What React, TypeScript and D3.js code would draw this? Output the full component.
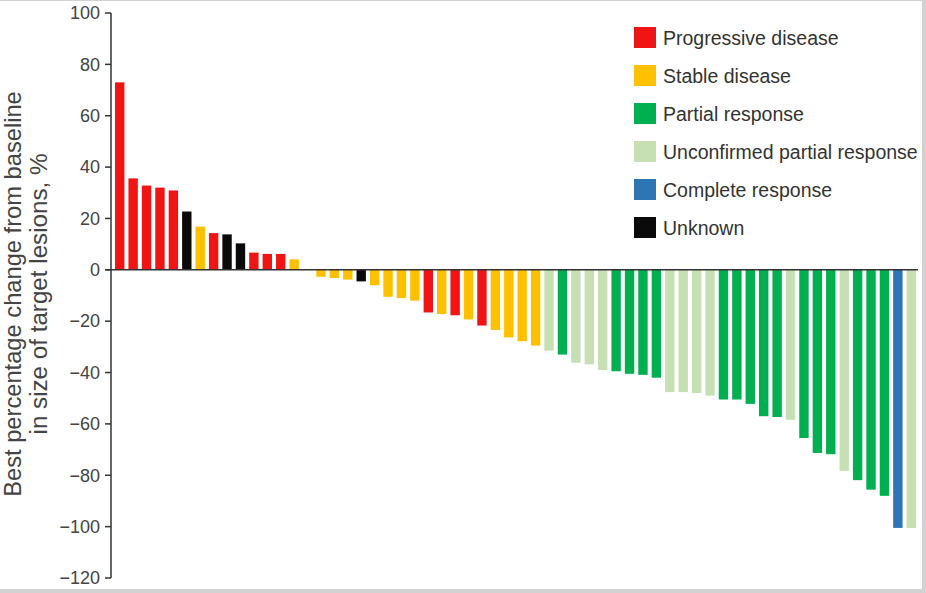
import React from "react";
import * as d3 from "d3";

const W = 926;
const H = 593;

const values: number[] = [
  73, 35.6, 32.8, 32, 30.9, 22.7, 16.8, 14.3, 13.8, 10.3, 6.7, 6.2, 6.2, 4.1, 0,
  -2.7, -3.2, -3.8, -4.5, -6, -10.5, -11, -12, -16.6, -17.2, -17.7, -19.3, -21.7,
  -23.4, -26.3, -27.8, -29.5, -31.5, -33, -36.2, -36.8, -39, -39.5, -40.5, -40.9,
  -42, -47.6, -47.6, -48, -49, -50.5, -50.5, -52.2, -57, -57.3, -58.4, -65.5,
  -71.3, -71.8, -78.3, -81.9, -85.6, -88, -100.5, -100.5,
];

// P = progressive, S = stable, R = partial, U = unconfirmed partial, C = complete, K = unknown
const responses: string[] = [
  "P", "P", "P", "P", "P", "K", "S", "P", "K", "K", "P", "P", "P", "S", "S",
  "S", "S", "S", "K", "S", "S", "S", "S", "P", "S", "P", "S", "P", "S", "S",
  "S", "S", "U", "R", "U", "U", "U", "R", "R", "R", "R", "U", "U", "U", "U",
  "R", "R", "R", "R", "R", "U", "R", "R", "R", "U", "R", "R", "R", "C", "U",
];

const legendKeys: string[] = ["P", "S", "R", "U", "C", "K"];
const legendLabels: string[] = [
  "Progressive disease",
  "Stable disease",
  "Partial response",
  "Unconfirmed partial response",
  "Complete response",
  "Unknown",
];
const legendColors: string[] = ["#f01414", "#ffc000", "#00b050", "#c6e0b4", "#2e75b6", "#0a0a0a"];

const yTicks: number[] = [100, 80, 60, 40, 20, 0, -20, -40, -60, -80, -100, -120];

const colorScale = d3.scaleOrdinal<string, string>().domain(legendKeys).range(legendColors);

const fontFamily = "'Liberation Sans', Arial, Helvetica, sans-serif";

export default function App() {
  const axisX = 111;
  const x = d3
    .scaleBand<number>()
    .domain(d3.range(values.length))
    .range([axisX, 920])
    .paddingInner(0.3)
    .paddingOuter(0.3);
  const y = d3.scaleLinear().domain([-120, 100]).range([578, 13]);

  const fmt = (v: number) => (v < 0 ? "\u2212" + Math.abs(v) : String(v));

  return (
    <div style={{ position: "absolute", left: 0, top: 0 }}>
      <svg width={W} height={H} style={{ display: "block", fontFamily }}>
        <rect x={0} y={0} width={W} height={H} fill="#d2d2d2" />
        <rect x={0} y={1} width={922} height={588} fill="#ffffff" />

        {/* bars */}
        {values.map((v, i) => (
          <rect
            key={i}
            x={x(i)!}
            width={x.bandwidth()}
            y={Math.min(y(v), y(0))}
            height={Math.abs(y(v) - y(0))}
            fill={colorScale(responses[i])}
          />
        ))}

        {/* zero line */}
        <line x1={axisX - 5} x2={918} y1={y(0)} y2={y(0)} stroke="#333" strokeWidth={1.5} />

        {/* y axis */}
        <line x1={axisX} x2={axisX} y1={y(100)} y2={y(-120)} stroke="#333" strokeWidth={1.5} />
        {yTicks.map((t) => (
          <g key={t}>
            <line x1={axisX - 6} x2={axisX} y1={y(t)} y2={y(t)} stroke="#333" strokeWidth={1.5} />
            <text
              x={axisX - 11}
              y={y(t)}
              dy="0.35em"
              textAnchor="end"
              fontSize={18}
              fill="#444"
            >
              {fmt(t)}
            </text>
          </g>
        ))}

        {/* y title */}
        <g transform="translate(21,294) rotate(-90)">
          <text textAnchor="middle" fontSize={23.7} fill="#444">
            Best percentage change from baseline
          </text>
        </g>
        <g transform="translate(47,294) rotate(-90)">
          <text textAnchor="middle" fontSize={24.2} fill="#444">
            in size of target lesions, %
          </text>
        </g>

        {/* legend */}
        {legendKeys.map((k, i) => (
          <g key={k} transform={`translate(634,${27 + i * 38})`}>
            <rect width={22} height={21} fill={colorScale(k)} />
            <text x={29} y={10.5} dy="0.36em" fontSize={19.5} fill="#333">
              {legendLabels[i]}
            </text>
          </g>
        ))}
      </svg>
    </div>
  );
}
